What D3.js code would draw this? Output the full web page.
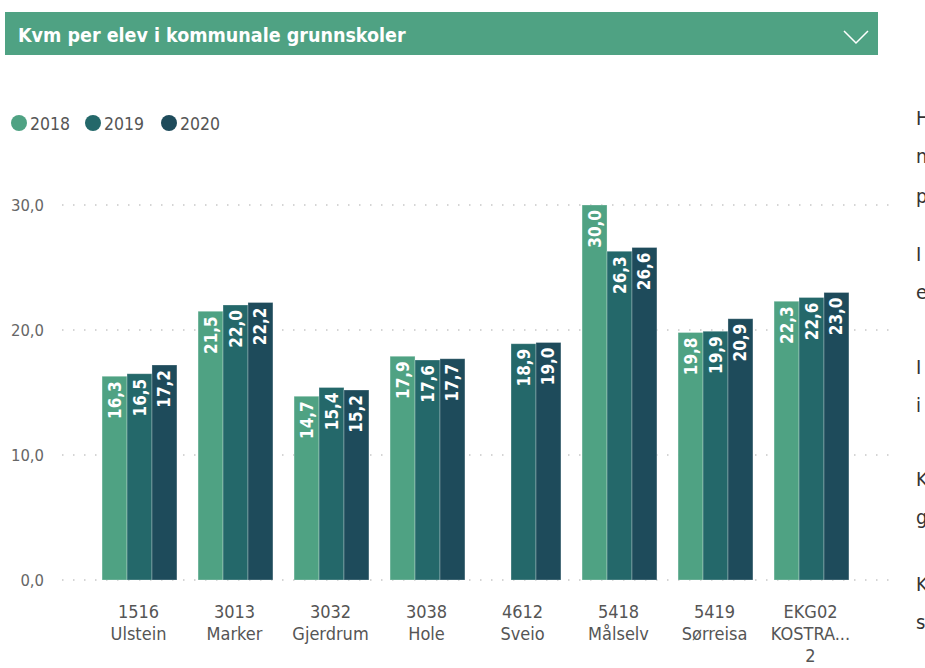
<!doctype html>
<html lang="no">
<head>
<meta charset="UTF-8">
<script src="https://d3js.org/d3.v7.min.js"></script>
<style>
body { margin: 0; background: #fff; overflow: hidden; }
svg { display: block; }
text { font-family: "DejaVu Sans Condensed", "DejaVu Sans", sans-serif; }
</style>
</head>
<body>
<svg id="chart" width="925" height="668"></svg>
<script>
// data
var kommuner = ["1516|Ulstein", "3013|Marker", "3032|Gjerdrum", "3038|Hole", "4612|Sveio",
                "5418|Målselv", "5419|Sørreisa", "EKG02|KOSTRA...|2"];
var years = ["2018", "2019", "2020"];
var v2018 = [16.3, 21.5, 14.7, 17.9, null, 30.0, 19.8, 22.3];
var v2019 = [16.5, 22.0, 15.4, 17.6, 18.9, 26.3, 19.9, 22.6];
var v2020 = [17.2, 22.2, 15.2, 17.7, 19.0, 26.6, 20.9, 23.0];
var yTicks = [0, 10, 20, 30];
var sideLetters = ["H", "n", "p", "I", "e", "I", "i", "K", "g", "K", "s"];
var sideY = [125, 163, 203, 261, 299, 374, 412, 486, 524, 591, 629];

var colors = ["#4fa283", "#24686a", "#1e4b5b"];
var series = [v2018, v2019, v2020];

var svg = d3.select("#chart");

// header bar
svg.append("rect").attr("x", 5).attr("y", 12).attr("width", 873).attr("height", 43)
  .attr("fill", "#4fa283");
svg.append("text").attr("x", 18).attr("y", 42)
  .attr("fill", "#fff").attr("font-size", 19.5).attr("font-weight", "bold")
  .text("Kvm per elev i kommunale grunnskoler");
svg.append("polyline").attr("points", "844,31 856,43 868,31")
  .attr("fill", "none").attr("stroke", "#fff").attr("stroke-width", 1.5);

// legend
var lx = [19, 93, 169];
years.forEach(function(yr, i) {
  svg.append("circle").attr("cx", lx[i]).attr("cy", 123).attr("r", 8).attr("fill", colors[i]);
  svg.append("text").attr("x", lx[i] + 11).attr("y", 129.5)
    .attr("fill", "#555").attr("font-size", 17.5).text(yr);
});

var y = d3.scaleLinear().domain([0, 30]).range([580, 205]);
var x0 = d3.scaleBand().domain(d3.range(kommuner.length)).range([91.5, 859.5])
  .paddingInner(0.22).paddingOuter(0.11);
var x1 = d3.scaleBand().domain(d3.range(3)).range([0, x0.bandwidth()]);

// grid + y labels
var grid = svg.append("g");
yTicks.forEach(function(t) {
  grid.append("line").attr("x1", 62).attr("x2", 893)
    .attr("y1", y(t)).attr("y2", y(t))
    .attr("stroke", "#c8c8c8").attr("stroke-width", 1.5)
    .attr("stroke-dasharray", "1.5,9.5");
  grid.append("text").attr("x", 44).attr("y", y(t) + 6)
    .attr("text-anchor", "end").attr("fill", "#666").attr("font-size", 16.5)
    .text(d3.format(".1f")(t).replace(".", ","));
});

// bars
var fmt = function(v) { return d3.format(".1f")(v).replace(".", ","); };
kommuner.forEach(function(k, gi) {
  var g = svg.append("g").attr("transform", "translate(" + x0(gi) + ",0)");
  series.forEach(function(s, si) {
    var v = s[gi];
    if (v == null) return;
    g.append("rect").attr("x", x1(si)).attr("y", y(v))
      .attr("width", x1.bandwidth()).attr("height", y(0) - y(v))
      .attr("fill", colors[si])
      .attr("stroke", "rgba(255,255,255,0.35)").attr("stroke-width", 0.8);
    var cx = x1(si) + x1.bandwidth() / 2;
    g.append("text")
      .attr("transform", "translate(" + (cx + 6) + "," + (y(v) + 5) + ") rotate(-90)")
      .attr("text-anchor", "end").attr("fill", "#fff")
      .attr("font-size", 17).attr("font-weight", "bold")
      .text(fmt(v));
  });
  // x label
  var lines = k.split("|");
  var t = svg.append("text").attr("text-anchor", "middle").attr("fill", "#555").attr("font-size", 18);
  lines.forEach(function(l, li) {
    t.append("tspan").attr("x", x0(gi) + x0.bandwidth() / 2 - 1)
      .attr("y", 618 + li * 22).text(l);
  });
});

// clipped side text
sideLetters.forEach(function(c, i) {
  svg.append("text").attr("x", 916).attr("y", sideY[i])
    .attr("fill", "#333").attr("font-size", 20)
    .attr("font-family", "'Open Sans', sans-serif").text(c);
});
</script>
</body>
</html>
